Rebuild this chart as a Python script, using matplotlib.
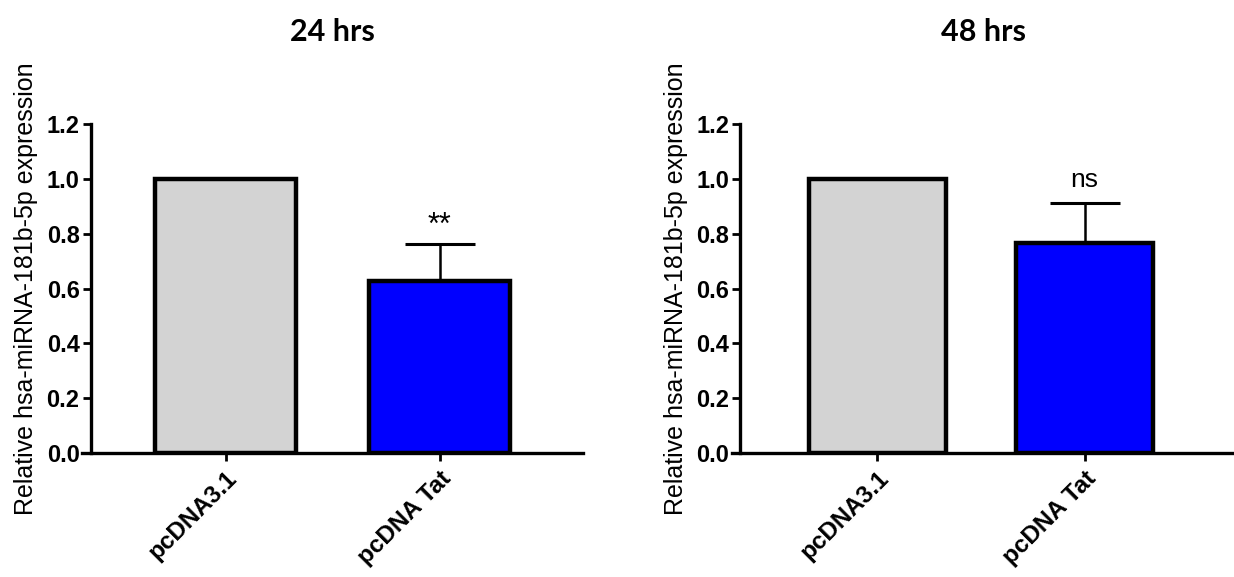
import matplotlib.pyplot as plt

plt.rcParams["font.family"] = ["Liberation Sans", "DejaVu Sans"]

groups = ["pcDNA3.1", "pcDNA Tat"]
titles = ["24 hrs", "48 hrs"]
means_24 = [1.0, 0.628]
err_24 = [0.0, 0.135]
means_48 = [1.0, 0.766]
err_48 = [0.0, 0.146]
marks = ["**", "ns"]
colors = ["#D3D3D3", "#0000FF"]
yticks = [0, 0.2, 0.4, 0.6, 0.8, 1.0, 1.2]
ytick_labels = ["0.0", "0.2", "0.4", "0.6", "0.8", "1.0", "1.2"]
ylabel = "Relative hsa-miRNA-181b-5p expression"

fig = plt.figure(figsize=(12.34, 5.77), dpi=100)

panels = [
    (fig.add_axes([0.0665, 0.2149, 0.406, 0.570]), means_24, err_24, -0.67, 1.67, -0.63),
    (fig.add_axes([0.5932, 0.2149, 0.4068, 0.570]), means_48, err_48, -0.70, 1.72, -0.66),
]

for i, (ax, means, errs, xl, xr, ypos) in enumerate(panels):
    # spine position first, it resets the tick objects
    ax.spines["top"].set_visible(False)
    ax.spines["right"].set_visible(False)
    ax.spines["left"].set_position(("data", ypos))
    ax.spines["left"].set_linewidth(2.4)
    ax.spines["bottom"].set_linewidth(2.4)

    x = list(range(len(groups)))
    ax.bar(x, means, width=0.66, color=colors, edgecolor="black", linewidth=3.2, zorder=3)
    ax.errorbar(x[1], means[1], yerr=[[0], [errs[1]]], fmt="none", ecolor="black",
                elinewidth=1.8, capsize=25, capthick=2.2, zorder=2)
    if marks[i] == "ns":
        ax.text(x[1], means[1] + errs[1] + 0.04, marks[i], ha="center", va="bottom", fontsize=19)
    else:
        ax.text(x[1], means[1] + errs[1] + 0.01, marks[i], ha="center", va="bottom", fontsize=22)

    ax.set_xlim(xl, xr)
    ax.set_ylim(0, 1.2)
    ax.set_yticks(yticks)
    ax.set_yticklabels(ytick_labels, fontsize=17, fontweight="bold")
    ax.set_xticks(x)
    ax.set_xticklabels(groups, rotation=45, ha="right", rotation_mode="anchor",
                       fontsize=17.5, fontweight="bold")
    for lab in ax.get_xticklabels():
        lab.set_x(lab.get_position()[0])

    ax.tick_params(axis="both", direction="out", length=6, width=2, pad=2)
    ax.tick_params(axis="x", pad=4)

    ax.set_ylabel(ylabel, fontsize=18, labelpad=6)
    ax.set_title(titles[i], fontsize=22, fontweight="bold", family="Lato", pad=60)

plt.savefig("out.png", dpi=100)
